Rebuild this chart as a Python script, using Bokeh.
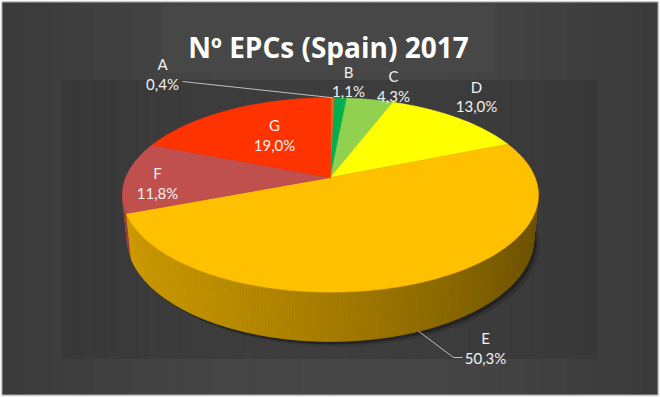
import numpy as np
from bokeh.plotting import figure
from bokeh.models import Range1d, ColumnDataSource
from bokeh.core.properties import value
from bokeh.embed import file_html
from bokeh.resources import INLINE

# ---------------- data ----------------
categories = ["A", "B", "C", "D", "E", "F", "G"]
shares = [0.4, 1.1, 4.3, 13.0, 50.3, 11.8, 19.0]
slice_colors = ["#E8641B", "#00B050", "#92D050", "#FFFF00", "#FFC000", "#C0504D", "#FF3300"]
title_text = "Nº EPCs (Spain) 2017"

# ---------------- layout (reference pixel coordinates) ----------------
CX, CY = 330.0, 177.0      # pie centre on screen
K = 204.5                  # radius scale
RHO = 0.202                # perspective strength
SA, CA = 0.46, 0.888       # sin / cos of elevation
DEPTH = 0.243              # thickness relative to radius

label_xy = {  # (x, baseline line1, baseline line2)
    "A": (162, 63, 83), "B": (348, 71, 90), "C": (393, 75, 95),
    "D": (476, 86, 105), "E": (485, 337, 357), "F": (157, 172, 192),
    "G": (274, 124, 144),
}

def proj(theta_deg, r=1.0, yh=0.0):
    th = np.radians(theta_deg)
    x = r * np.sin(th)
    z = -r * np.cos(th)
    w = 1 - RHO * (z * CA + yh * SA)
    v = -z * SA + yh * CA
    return CX + K * x / w, CY - K * v / w

def shade(hexcol, f):
    h = hexcol.lstrip("#")
    r, g, b = (int(h[i:i + 2], 16) for i in (0, 2, 4))
    return "#%02x%02x%02x" % (int(r * f), int(g * f), int(b * f))

def grey(g):
    g = int(round(g))
    return "#%02x%02x%02x" % (g, g, g)

p = figure(width=660, height=397, x_range=Range1d(0, 660), y_range=Range1d(397, 0),
           output_backend="svg", toolbar_location=None, min_border=0)
p.axis.visible = False
p.grid.visible = False
p.outline_line_color = None
p.background_fill_color = "#F2F2F2"
p.border_fill_color = "#F2F2F2"

# background gradients
def grad(x0, x1, y0, y1, base, amp, n=50):
    xs = np.linspace(x0, x1, n + 1)
    cols = []
    for i in range(n):
        xc = 0.5 * (xs[i] + xs[i + 1])
        dx = (xc - 330) / 330
        cols.append(grey(base + amp * (1 - dx * dx)))
    p.quad(left=xs[:-1], right=xs[1:], top=[y0] * n, bottom=[y1] * n,
           fill_color=cols, line_color=cols, line_width=1)

grad(2, 657, 2, 394, 57, 13)
p.quad(left=[1.5], right=[657.5], top=[1.5], bottom=[394.5], fill_color=None,
       line_color="#A6A6A6", line_width=1)
grad(62, 597, 80, 358, 53, 8)
p.quad(left=[163], right=[494], top=[5], bottom=[73], fill_color="#474747", line_color=None)

# cumulative angles (clockwise from the far point)
total = sum(shares)
bounds = np.concatenate([[0], np.cumsum(shares)]) / total * 360.0

# shadow
ts = np.linspace(0, 360, 361)
bx, by = proj(ts, 1.0, -DEPTH)
p.patch(bx + 6, by + 5, fill_color="black", fill_alpha=0.12, line_color=None)
p.patch(bx + 3, by + 3, fill_color="black", fill_alpha=0.3, line_color=None)

# side strips
strips = []
for i, cat in enumerate(categories):
    a, b = bounds[i], bounds[i + 1]
    n = max(2, int((b - a) / 0.75) + 1)
    th = np.linspace(a, b, n)
    for j in range(n - 1):
        t0, t1 = th[j], th[j + 1]
        tm = 0.5 * (t0 + t1)
        zc = -np.cos(np.radians(tm))
        if zc < -0.3:
            continue
        x0t, y0t = proj(t0)
        x1t, y1t = proj(t1)
        x0b, y0b = proj(t0, 1.0, -DEPTH)
        x1b, y1b = proj(t1, 1.0, -DEPTH)
        xn = np.sin(np.radians(tm))
        f = 0.65 - 0.2 * xn - 0.03 * xn * xn
        strips.append((zc, [x0t, x1t, x1b, x0b], [y0t, y1t, y1b, y0b], shade(slice_colors[i], f)))
strips.sort(key=lambda s: s[0])
p.patches([s[1] for s in strips], [s[2] for s in strips],
          fill_color=[s[3] for s in strips], line_color=[s[3] for s in strips], line_width=0.8)

# top faces
xs_list, ys_list = [], []
for i in range(len(categories)):
    th = np.linspace(bounds[i], bounds[i + 1], max(3, int((bounds[i + 1] - bounds[i]) / 0.5) + 2))
    x, y = proj(th)
    xs_list.append(np.concatenate([[CX], x]))
    ys_list.append(np.concatenate([[CY], y]))
p.patches(xs_list, ys_list, fill_color=slice_colors, line_color=slice_colors, line_width=0.6)

# leader lines
mid_a = 0.5 * (bounds[0] + bounds[1])
ax_, ay_ = proj(mid_a)
p.line([182, ax_], [81, ay_], line_color="#BFBFBF", line_width=1)
mid_e = 0.5 * (bounds[4] + bounds[5])
ex_, ey_ = proj(mid_e, 1.0, -DEPTH)
p.line([ex_, 453, 462], [ey_, 357, 357], line_color="#BFBFBF", line_width=1)

# labels
pct = [("%.1f" % v).replace(".", ",") + "%" for v in shares]
src = ColumnDataSource(dict(
    x=[label_xy[c][0] for c in categories] * 2,
    y=[label_xy[c][1] for c in categories] + [label_xy[c][2] for c in categories],
    t=categories + pct,
))
p.text(x="x", y="y", text="t", source=src, text_font=value("Lato"), text_font_size="15px",
       text_color="#F2F2F2", text_align="center", text_baseline="alphabetic")

p.text(x=[328], y=[46], text=[title_text], text_font=value("Open Sans"), text_font_style="bold",
       text_font_size="28px", text_color="#FFFFFF", text_align="center", text_baseline="alphabetic")

open("out.html", "w").write(file_html(p, INLINE))
